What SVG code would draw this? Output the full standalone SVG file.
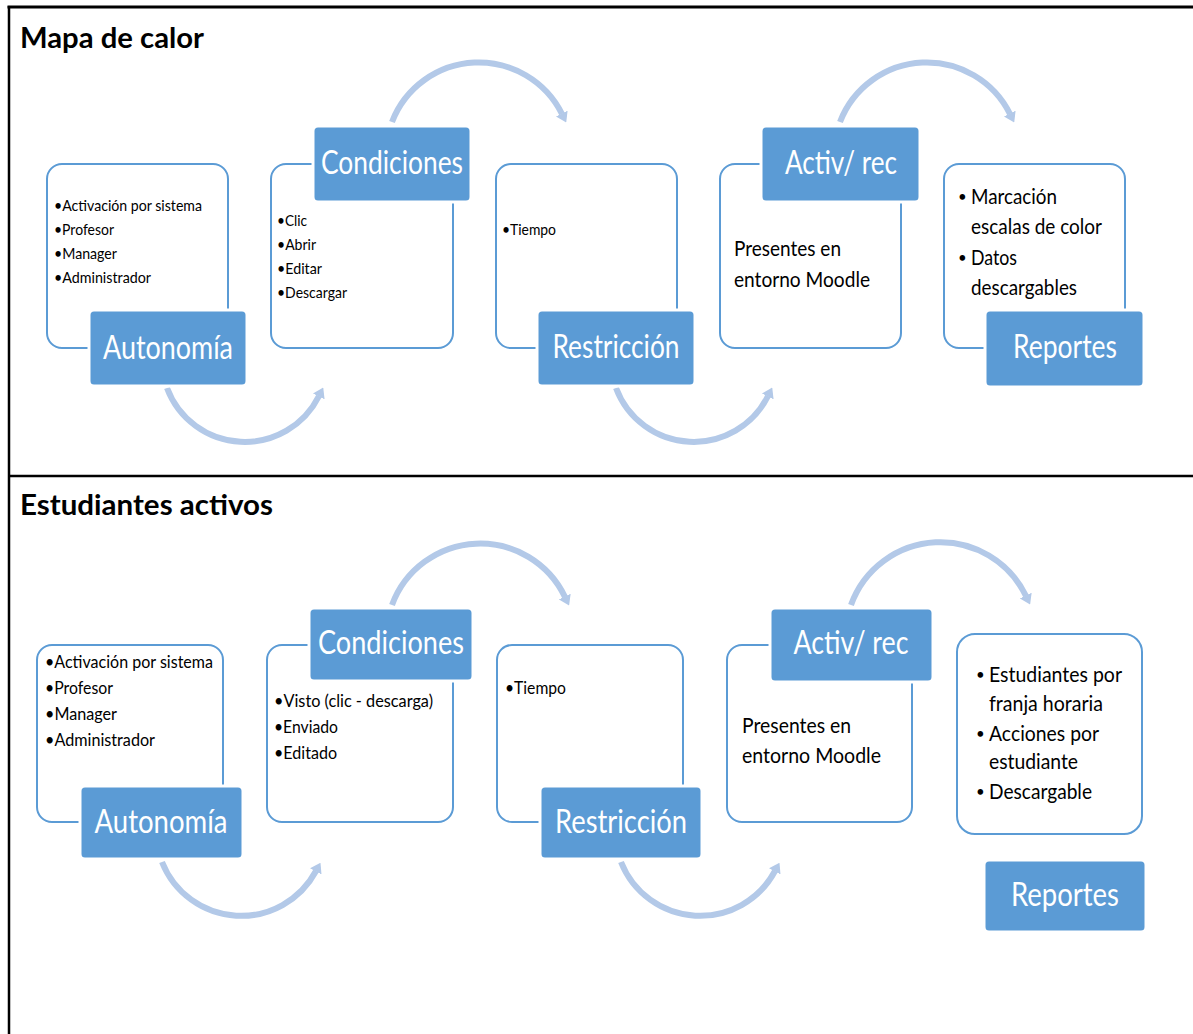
<svg xmlns="http://www.w3.org/2000/svg" width="1193" height="1034" viewBox="0 0 1193 1034">
  <style>
    .frame { stroke: #000; fill: none; }
    .title { font-family: Lato, "Liberation Sans", sans-serif; font-weight: bold; font-size: 28px; fill: #000; }
    .panel { fill: #fff; stroke: #5b9bd5; stroke-width: 2; }
    .tag { fill: #5b9bd5; stroke: #fff; stroke-width: 3; }
    .tagtext { font-family: Lato, "Liberation Sans", sans-serif; font-size: 33px; fill: #fff; text-anchor: middle; }
    .item { font-family: Lato, "Liberation Sans", sans-serif; font-size: 15px; fill: #000; }
    .item2 { font-family: Lato, "Liberation Sans", sans-serif; font-size: 16.5px; fill: #000; }
    .body { font-family: Lato, "Liberation Sans", sans-serif; font-size: 21px; fill: #000; }
    .dot { font-family: Lato, "Liberation Sans", sans-serif; font-size: 15px; fill: #000; }
    .flow { fill: none; stroke: #b3c9e8; stroke-width: 6; marker-end: url(#head); }
  </style>
  <defs>
    <marker id="head" markerUnits="userSpaceOnUse" viewBox="0 0 10 13" refX="0.5" refY="6.5" markerWidth="10" markerHeight="13" orient="auto">
      <path d="M0,0 L10,6.5 L0,13 z" fill="#b3c9e8"/>
    </marker>
  </defs>

  <rect width="1193" height="1034" fill="#fff"/>

  <!-- table rules -->
  <g id="frame">
    <line class="frame" x1="7.5" y1="7" x2="1193" y2="7" stroke-width="3"/>
    <line class="frame" x1="9" y1="6" x2="9" y2="1034" stroke-width="2.5"/>
    <line class="frame" x1="9" y1="476" x2="1193" y2="476" stroke-width="2.5"/>
  </g>

  <text class="title" x="20" y="48" textLength="184" lengthAdjust="spacingAndGlyphs">Mapa de calor</text>
  <text class="title" x="20" y="515" textLength="253" lengthAdjust="spacingAndGlyphs">Estudiantes activos</text>

  <!-- curved flow arrows -->
  <g id="connectors">
    <path class="flow" d="M392,122 A93,93 0 0 1 562,114"/>
    <path class="flow" d="M840,122 A93,93 0 0 1 1010,114"/>
    <path class="flow" d="M167,388 A83,83 0 0 0 319,396"/>
    <path class="flow" d="M616,388 A83,83 0 0 0 768,396"/>

    <path class="flow" d="M392,605 A94,94 0 0 1 565,597"/>
    <path class="flow" d="M851,605 A95,95 0 0 1 1026,596"/>
    <path class="flow" d="M162,862 A85,85 0 0 0 316,871"/>
    <path class="flow" d="M621,862 A85,85 0 0 0 775,871"/>
  </g>

  <!-- Mapa de calor -->
  <g id="mc-autonomia">
    <rect class="panel" x="47" y="164" width="181" height="184" rx="15"/>
    <text class="item" x="54" y="211" textLength="148" lengthAdjust="spacingAndGlyphs">•Activación por sistema</text>
    <text class="item" x="54" y="235" textLength="60" lengthAdjust="spacingAndGlyphs">•Profesor</text>
    <text class="item" x="54" y="259" textLength="63" lengthAdjust="spacingAndGlyphs">•Manager</text>
    <text class="item" x="54" y="283" textLength="97" lengthAdjust="spacingAndGlyphs">•Administrador</text>
    <rect class="tag" x="89" y="310" width="158" height="76" rx="5"/>
    <text class="tagtext" x="168" y="359" textLength="130" lengthAdjust="spacingAndGlyphs">Autonomía</text>
  </g>

  <g id="mc-condiciones">
    <rect class="panel" x="271" y="164" width="182" height="184" rx="15"/>
    <text class="item" x="277" y="226" textLength="30" lengthAdjust="spacingAndGlyphs">•Clic</text>
    <text class="item" x="277" y="250" textLength="39" lengthAdjust="spacingAndGlyphs">•Abrir</text>
    <text class="item" x="277" y="274" textLength="45" lengthAdjust="spacingAndGlyphs">•Editar</text>
    <text class="item" x="277" y="298" textLength="70" lengthAdjust="spacingAndGlyphs">•Descargar</text>
    <rect class="tag" x="313" y="126" width="158" height="76" rx="5"/>
    <text class="tagtext" x="392" y="174" textLength="142" lengthAdjust="spacingAndGlyphs">Condiciones</text>
  </g>

  <g id="mc-restriccion">
    <rect class="panel" x="496" y="164" width="181" height="184" rx="15"/>
    <text class="item" x="502" y="235" textLength="54" lengthAdjust="spacingAndGlyphs">•Tiempo</text>
    <rect class="tag" x="537" y="310" width="158" height="76" rx="5"/>
    <text class="tagtext" x="616" y="358" textLength="127" lengthAdjust="spacingAndGlyphs">Restricción</text>
  </g>

  <g id="mc-activ">
    <rect class="panel" x="720" y="164" width="181" height="184" rx="15"/>
    <text class="body" x="734" y="256" textLength="107" lengthAdjust="spacingAndGlyphs">Presentes en</text>
    <text class="body" x="734" y="287" textLength="136" lengthAdjust="spacingAndGlyphs">entorno Moodle</text>
    <rect class="tag" x="761" y="126" width="159" height="76" rx="5"/>
    <text class="tagtext" x="841" y="174" textLength="112" lengthAdjust="spacingAndGlyphs">Activ/ rec</text>
  </g>

  <g id="mc-reportes">
    <rect class="panel" x="944" y="164" width="181" height="184" rx="15"/>
    <text class="dot" x="958" y="202">•</text>
    <text class="body" x="971" y="204" textLength="86" lengthAdjust="spacingAndGlyphs">Marcación</text>
    <text class="body" x="971" y="234" textLength="131" lengthAdjust="spacingAndGlyphs">escalas de color</text>
    <text class="dot" x="958" y="263">•</text>
    <text class="body" x="971" y="265" textLength="46" lengthAdjust="spacingAndGlyphs">Datos</text>
    <text class="body" x="971" y="295" textLength="106" lengthAdjust="spacingAndGlyphs">descargables</text>
    <rect class="tag" x="985" y="310" width="159" height="77" rx="5"/>
    <text class="tagtext" x="1065" y="358" textLength="104" lengthAdjust="spacingAndGlyphs">Reportes</text>
  </g>

  <!-- Estudiantes activos -->
  <g id="ea-autonomia">
    <rect class="panel" x="37" y="645" width="186" height="177" rx="15"/>
    <text class="item2" x="45" y="668" textLength="168" lengthAdjust="spacingAndGlyphs">•Activación por sistema</text>
    <text class="item2" x="45" y="694" textLength="68" lengthAdjust="spacingAndGlyphs">•Profesor</text>
    <text class="item2" x="45" y="720" textLength="72" lengthAdjust="spacingAndGlyphs">•Manager</text>
    <text class="item2" x="45" y="746" textLength="110" lengthAdjust="spacingAndGlyphs">•Administrador</text>
    <rect class="tag" x="80" y="786" width="163" height="73" rx="5"/>
    <text class="tagtext" x="161" y="833" textLength="133" lengthAdjust="spacingAndGlyphs">Autonomía</text>
  </g>

  <g id="ea-condiciones">
    <rect class="panel" x="267" y="645" width="186" height="177" rx="15"/>
    <text class="item2" x="274" y="707" textLength="159" lengthAdjust="spacingAndGlyphs">•Visto (clic - descarga)</text>
    <text class="item2" x="274" y="733" textLength="64" lengthAdjust="spacingAndGlyphs">•Enviado</text>
    <text class="item2" x="274" y="759" textLength="63" lengthAdjust="spacingAndGlyphs">•Editado</text>
    <rect class="tag" x="309" y="608" width="164" height="73" rx="5"/>
    <text class="tagtext" x="391" y="654" textLength="146" lengthAdjust="spacingAndGlyphs">Condiciones</text>
  </g>

  <g id="ea-restriccion">
    <rect class="panel" x="497" y="645" width="186" height="177" rx="15"/>
    <text class="item2" x="505" y="694" textLength="61" lengthAdjust="spacingAndGlyphs">•Tiempo</text>
    <rect class="tag" x="540" y="786" width="162" height="73" rx="5"/>
    <text class="tagtext" x="621" y="833" textLength="132" lengthAdjust="spacingAndGlyphs">Restricción</text>
  </g>

  <g id="ea-activ">
    <rect class="panel" x="727" y="645" width="185" height="177" rx="15"/>
    <text class="body" x="742" y="733" textLength="109" lengthAdjust="spacingAndGlyphs">Presentes en</text>
    <text class="body" x="742" y="763" textLength="139" lengthAdjust="spacingAndGlyphs">entorno Moodle</text>
    <rect class="tag" x="770" y="608" width="163" height="74" rx="5"/>
    <text class="tagtext" x="851" y="654" textLength="115" lengthAdjust="spacingAndGlyphs">Activ/ rec</text>
  </g>

  <g id="ea-reportes">
    <rect class="panel" x="957" y="634" width="185" height="200" rx="18"/>
    <text class="dot" x="976" y="680">•</text>
    <text class="body" x="989" y="682" textLength="133" lengthAdjust="spacingAndGlyphs">Estudiantes por</text>
    <text class="body" x="989" y="711" textLength="114" lengthAdjust="spacingAndGlyphs">franja horaria</text>
    <text class="dot" x="976" y="739">•</text>
    <text class="body" x="989" y="741" textLength="110" lengthAdjust="spacingAndGlyphs">Acciones por</text>
    <text class="body" x="989" y="769" textLength="89" lengthAdjust="spacingAndGlyphs">estudiante</text>
    <text class="dot" x="976" y="797">•</text>
    <text class="body" x="989" y="799" textLength="103" lengthAdjust="spacingAndGlyphs">Descargable</text>
    <rect class="tag" x="984" y="860" width="162" height="72" rx="5"/>
    <text class="tagtext" x="1065" y="906" textLength="108" lengthAdjust="spacingAndGlyphs">Reportes</text>
  </g>
</svg>
